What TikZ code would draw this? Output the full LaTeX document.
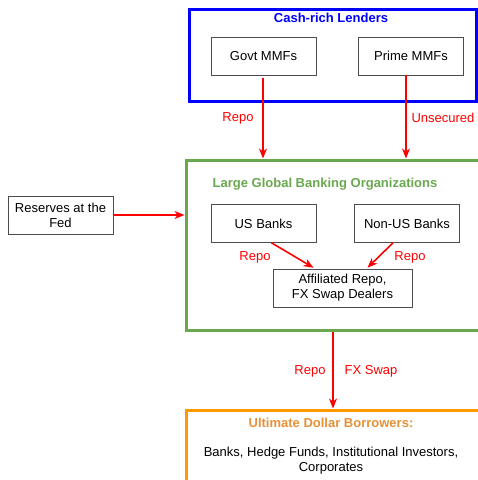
\documentclass[tikz,border=0pt]{standalone}
\usepackage{fontspec}
\setmainfont{Liberation Sans}
\usepackage{tikz}
\usetikzlibrary{positioning}
\usetikzlibrary{calc}
\usetikzlibrary{arrows.meta}
\definecolor{lendblue}{RGB}{0,0,255}
\definecolor{bankgreen}{RGB}{106,168,79}
\definecolor{borrorange}{RGB}{255,153,0}
\definecolor{titleorange}{RGB}{230,145,56}
\tikzset{%
  flow/.style = {-{Stealth[length=10pt,width=8pt,inset=3pt]},red,line width=1.6pt},
  lbl/.style = {text=red,font=\fontsize{13}{15}\selectfont},
  b/.style = {rectangle,draw=black!70,line width=0.6pt,
        minimum width=105pt,minimum height=38pt,align=center,
        font=\fontsize{13}{15}\selectfont},
  grp/.style = {rectangle,draw,line width=3pt,inner sep=0pt}
}

\begin{document}
\begin{tikzpicture}[x=1pt,y=-1pt]
\useasboundingbox (0,0) rectangle (478,480);
% group boxes
\node[grp,draw=lendblue,minimum width=287pt,minimum height=92pt] (lend) at (332.5,55.5) {};
\node[grp,draw=bankgreen,minimum width=320pt,minimum height=170pt] (lgbo) at (346,245) {};
\node[grp,draw=borrorange,minimum width=320pt,minimum height=120pt] (udb) at (346,470) {};
\node[text=lendblue,font=\fontsize{13}{15}\selectfont\bfseries] (lendt) at (331,18) {Cash-rich Lenders};
\node[text=bankgreen,font=\fontsize{13}{15}\selectfont\bfseries] (lgbot) at (325,184) {Large Global Banking Organizations};
\node[text=titleorange,font=\fontsize{13}{15}\selectfont\bfseries] (udbt) at (331,423) {Ultimate Dollar Borrowers:};
\node[align=center,font=\fontsize{13}{15}\selectfont] (udbx) at (331,461) {Banks, Hedge Funds, Institutional Investors,\\Corporates};
% boxes
\node[b] (govt) at (263.5,56) {Govt MMFs};
\node[b] (prime) at (411,56) {Prime MMFs};
\node[b] (fed) at (60.5,215) {Reserves at the\\Fed};
\node[b] (us) at (263.5,223.5) {US Banks};
\node[b] (nonus) at (407,223.5) {Non-US Banks};
\node[b,minimum width=139pt] (aff) at (342.5,288) {Affiliated Repo,\\FX Swap Dealers};
% arrows
\draw[flow] (263,78) -- (lgbo.north -| 263,0);
\draw[flow] (prime.south -| 406,0) -- (lgbo.north -| 406,0);
\draw[flow] (fed.east) -- (lgbo.west |- 0,215);
\draw[flow] ($(us.south)+(8,0)$) -- ($(aff.north)+(-29,-1)$);
\draw[flow] ($(nonus.south)+(-14,0)$) -- ($(aff.north)+(25,-1)$);
\draw[flow] (lgbo.south -| 333,0) -- (udb.north -| 333,0);
% labels
\node[lbl] (l1) at (238,118) {Repo};
\node[lbl] (l2) at (443,118) {Unsecured};
\node[lbl] (l3) at (255,257) {Repo};
\node[lbl] (l4) at (410,257) {Repo};
\node[lbl] (l5) at (310,371) {Repo};
\node[lbl] (l6) at (371,371) {FX Swap};
\end{tikzpicture}
\end{document}
